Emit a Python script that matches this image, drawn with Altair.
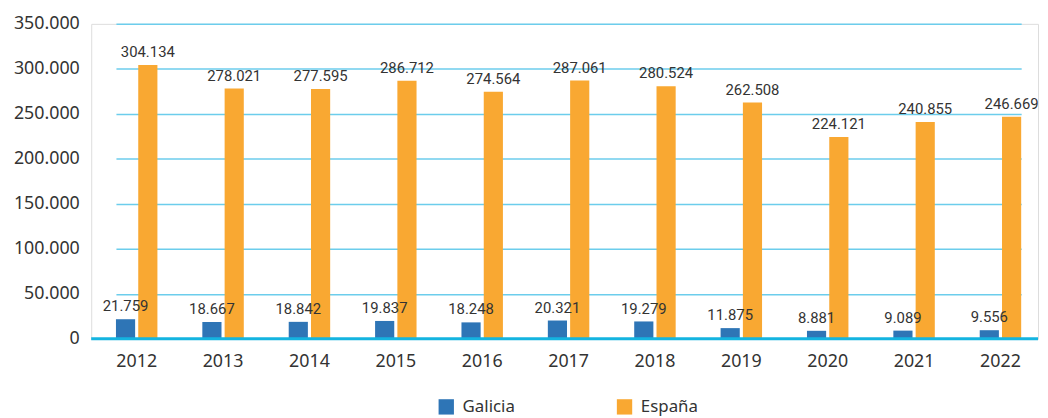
import altair as alt
import pandas as pd

years = ["2012", "2013", "2014", "2015", "2016", "2017", "2018", "2019", "2020", "2021", "2022"]
galicia = [21759, 18667, 18842, 19837, 18248, 20321, 19279, 11875, 8881, 9089, 9556]
espana = [304134, 278021, 277595, 286712, 274564, 287061, 280524, 262508, 224121, 240855, 246669]
series = ["Galicia", "España"]
y_ticks = [0, 50000, 100000, 150000, 200000, 250000, 300000, 350000]

rows = []
for i, y in enumerate(years):
    rows.append({"year": y, "serie": series[0], "value": galicia[i]})
    rows.append({"year": y, "serie": series[1], "value": espana[i]})
df = pd.DataFrame(rows)

AX_FONT = "Noto Sans"
LBL_FONT = "Roboto"

xenc = alt.X("year:N", sort=years, title=None,
             scale=alt.Scale(range=[25, 939], paddingInner=0.52, paddingOuter=0),
             axis=alt.Axis(labelAngle=0, domain=False, ticks=False, labelPadding=14,
                           labelFont=AX_FONT, labelFontSize=18, labelColor="#333333"))
yscale = alt.Scale(domain=[0, 350000])

base = alt.Chart(df)

bars = base.mark_bar().encode(
    x=xenc,
    xOffset=alt.XOffset("serie:N", sort=series, scale=alt.Scale(paddingInner=0.14)),
    y=alt.Y("value:Q", scale=yscale, title=None,
            axis=alt.Axis(values=y_ticks, domain=False, ticks=False, labelPadding=12,
                          labelExpr="replace(format(datum.value, ','), ',', '.')",
                          labelFont=AX_FONT, labelFontSize=18, labelColor="#333333",
                          grid=True, gridColor="#6CCDEC", gridWidth=1.5)),
    color=alt.Color("serie:N", sort=series,
                    scale=alt.Scale(domain=series, range=["#2E75B6", "#F9A832"]),
                    legend=alt.Legend(title=None, orient="none", direction="horizontal",
                                      legendX=350, legendY=378,
                                      symbolType="square", symbolSize=240, symbolStrokeWidth=0,
                                      labelFont=AX_FONT, labelFontSize=17, labelColor="#333333",
                                      columnPadding=102, labelOffset=8)),
)

labels = base.mark_text(baseline="bottom", dy=-5, font=LBL_FONT, fontSize=15, color="#333333").encode(
    x=xenc,
    xOffset=alt.XOffset("serie:N", sort=series, scale=alt.Scale(paddingInner=0.14)),
    y=alt.Y("value:Q", scale=yscale),
    text=alt.Text("label:N"),
).transform_calculate(label="replace(format(datum.value, ','), ',', '.')")

zero = alt.Chart(pd.DataFrame({"z": [0]})).mark_rule(color="#14B4E0", strokeWidth=3).encode(
    y=alt.Y("z:Q", scale=yscale)
)

chart = alt.layer(bars, zero, labels).properties(
    width=956, height=318,
    padding={"left": 5, "top": 5, "right": 0, "bottom": 5},
).configure_view(stroke=None).configure(background="white")

chart.save("out.html", embed_options={"renderer": "svg", "actions": False})
